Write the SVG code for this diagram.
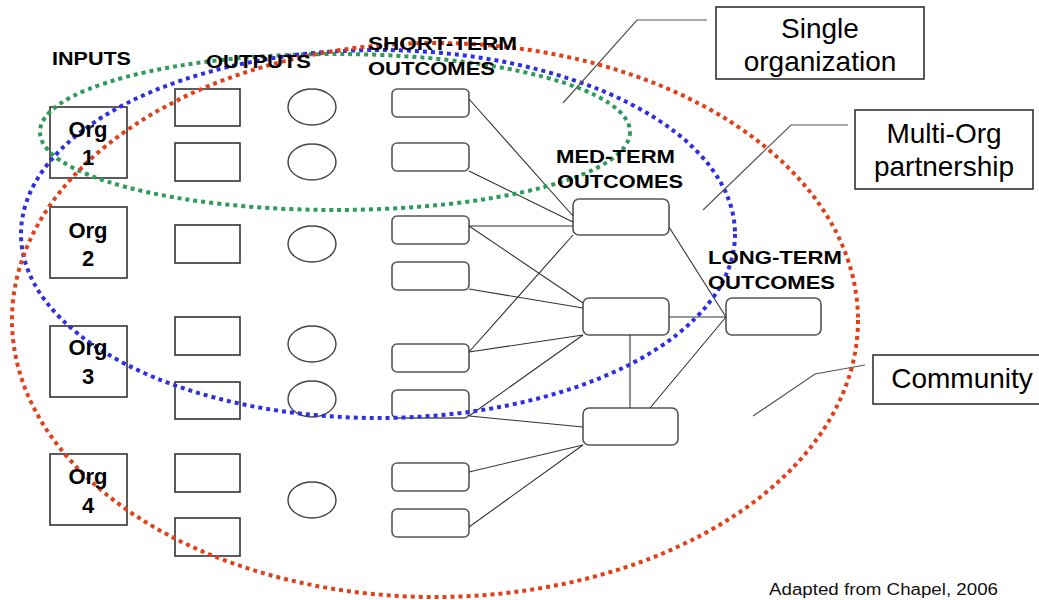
<svg xmlns="http://www.w3.org/2000/svg" width="1039" height="600" viewBox="0 0 1039 600">
<style>
.box{fill:none;stroke:#333;stroke-width:1.6}
.rr{fill:none;stroke:#555;stroke-width:1.6}
.ov{fill:none;stroke:#444;stroke-width:1.4}
.ln{fill:none;stroke:#333;stroke-width:1.1}
.co{fill:none;stroke:#555;stroke-width:1.2}
.dot{fill:none;stroke-width:4;stroke-dasharray:4 4}
.hd{font-family:"Liberation Sans",Arial,sans-serif;font-weight:bold;font-size:19px;fill:#000}
.org{font-family:"Liberation Sans",Arial,sans-serif;font-weight:bold;font-size:22px;fill:#000;text-anchor:middle}
.lab{font-family:"Liberation Sans",Arial,sans-serif;font-size:28px;fill:#000;text-anchor:middle}
.src{font-family:"Liberation Sans",Arial,sans-serif;font-size:16px;fill:#111}
</style>
<rect width="1039" height="600" fill="#fff"/>
<g id="inputs">
<rect class="box" x="50" y="107" width="77" height="71"/>
<rect class="box" x="50" y="207" width="77" height="71"/>
<rect class="box" x="50" y="326" width="77" height="71"/>
<rect class="box" x="50" y="454" width="77" height="71"/>
</g>
<g id="outputs">
<rect class="box" x="175" y="89" width="65" height="37"/>
<rect class="box" x="175" y="143" width="65" height="38"/>
<rect class="box" x="175" y="225" width="65" height="38"/>
<rect class="box" x="175" y="317" width="65" height="38"/>
<rect class="box" x="175" y="382" width="65" height="37"/>
<rect class="box" x="175" y="454" width="65" height="38"/>
<rect class="box" x="175" y="518" width="65" height="38"/>
</g>
<g id="activities">
<ellipse class="ov" cx="312" cy="107" rx="24" ry="18"/>
<ellipse class="ov" cx="312" cy="162" rx="24" ry="18"/>
<ellipse class="ov" cx="312" cy="244" rx="24" ry="18"/>
<ellipse class="ov" cx="312" cy="344" rx="24" ry="18"/>
<ellipse class="ov" cx="312" cy="399" rx="24" ry="18"/>
<ellipse class="ov" cx="312" cy="500" rx="24" ry="18"/>
</g>
<g id="short-term">
<rect class="rr" x="392" y="89" width="77" height="28" rx="5"/>
<rect class="rr" x="392" y="143" width="77" height="28" rx="5"/>
<rect class="rr" x="392" y="216" width="77" height="28" rx="5"/>
<rect class="rr" x="392" y="262" width="77" height="28" rx="5"/>
<rect class="rr" x="392" y="344" width="77" height="28" rx="5"/>
<rect class="rr" x="392" y="390" width="77" height="28" rx="5"/>
<rect class="rr" x="392" y="463" width="77" height="28" rx="5"/>
<rect class="rr" x="392" y="509" width="77" height="28" rx="5"/>
</g>
<g id="med-term">
<rect class="rr" x="573" y="199" width="96" height="36" rx="6"/>
<rect class="rr" x="583" y="298" width="86" height="37" rx="6"/>
<rect class="rr" x="583" y="408" width="95" height="37" rx="6"/>
</g>
<g id="long-term">
<rect class="rr" x="726" y="298" width="95" height="37" rx="6"/>
</g>
<g id="connectors">
<line class="ln" x1="469" y1="99" x2="573" y2="216"/>
<line class="ln" x1="469" y1="171" x2="573" y2="222"/>
<line class="ln" x1="469" y1="226" x2="573" y2="226"/>
<line class="ln" x1="469" y1="226" x2="583" y2="303"/>
<line class="ln" x1="469" y1="289" x2="583" y2="308"/>
<line class="ln" x1="469" y1="352" x2="573" y2="235"/>
<line class="ln" x1="469" y1="352" x2="583" y2="335"/>
<line class="ln" x1="469" y1="416" x2="583" y2="335"/>
<line class="ln" x1="469" y1="416" x2="583" y2="427"/>
<line class="ln" x1="469" y1="472" x2="583" y2="445"/>
<line class="ln" x1="469" y1="527" x2="583" y2="445"/>
<line class="ln" x1="669" y1="227" x2="726" y2="317"/>
<line class="ln" x1="669" y1="317" x2="726" y2="317"/>
<line class="ln" x1="650" y1="408" x2="726" y2="317"/>
<line class="ln" x1="630" y1="335" x2="630" y2="408"/>
</g>
<g id="boundaries">
<ellipse class="dot" stroke="#2e9a5c" cx="335" cy="132" rx="295" ry="78"/>
<ellipse class="dot" stroke="#2f2fe0" cx="378" cy="234" rx="357" ry="184"/>
<ellipse class="dot" stroke="#e0401a" cx="435" cy="320" rx="423" ry="277"/>
</g>
<g id="headers">
<text class="hd" x="52" y="65" textLength="79" lengthAdjust="spacingAndGlyphs">INPUTS</text>
<text class="hd" x="206" y="68" textLength="105" lengthAdjust="spacingAndGlyphs">OUTPUTS</text>
<text class="hd" x="368" y="50" textLength="149" lengthAdjust="spacingAndGlyphs">SHORT-TERM</text>
<text class="hd" x="368" y="75" textLength="127" lengthAdjust="spacingAndGlyphs">OUTCOMES</text>
<text class="hd" x="556" y="163" textLength="119" lengthAdjust="spacingAndGlyphs">MED-TERM</text>
<text class="hd" x="557" y="188" textLength="126" lengthAdjust="spacingAndGlyphs">OUTCOMES</text>
<text class="hd" x="708" y="264" textLength="134" lengthAdjust="spacingAndGlyphs">LONG-TERM</text>
<text class="hd" x="708" y="289" textLength="127" lengthAdjust="spacingAndGlyphs">OUTCOMES</text>
</g>
<g id="org-labels">
<text class="org" x="88" y="137">Org</text><text class="org" x="88" y="165">1</text>
<text class="org" x="88" y="238">Org</text><text class="org" x="88" y="266">2</text>
<text class="org" x="88" y="355">Org</text><text class="org" x="88" y="384">3</text>
<text class="org" x="88" y="484">Org</text><text class="org" x="88" y="513">4</text>
</g>
<g id="single-org">
<polyline class="co" points="707,20 637,20 563,103"/>
<rect class="box" x="716" y="7" width="208" height="72" fill="#fff"/>
<text class="lab" x="820" y="38">Single</text>
<text class="lab" x="820" y="71">organization</text>
</g>
<g id="multi-org">
<polyline class="co" points="848,125 791,125 703,210"/>
<rect class="box" x="855" y="110" width="178" height="79" fill="#fff"/>
<text class="lab" x="944" y="143">Multi-Org</text>
<text class="lab" x="944" y="176">partnership</text>
</g>
<g id="community">
<polyline class="co" points="865,365 815,374 753,416"/>
<rect class="box" x="873" y="355" width="170" height="49" fill="#fff"/>
<text class="lab" x="962" y="388">Community</text>
</g>
<text class="src" x="769" y="595" textLength="229" lengthAdjust="spacingAndGlyphs">Adapted from Chapel, 2006</text>
</svg>
